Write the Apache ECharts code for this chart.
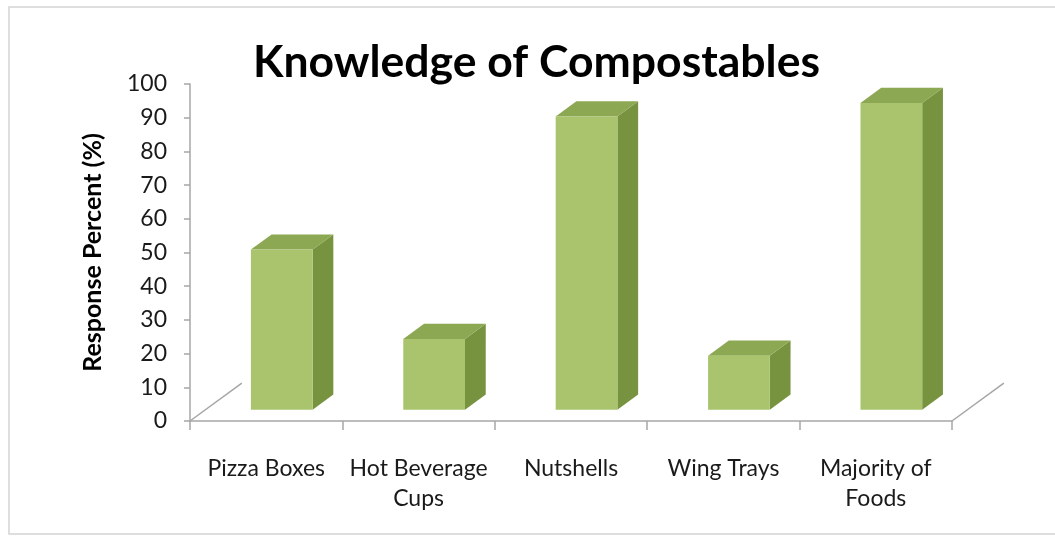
<!DOCTYPE html>
<html>
<head>
<meta charset="utf-8">
<script src="https://cdn.jsdelivr.net/npm/echarts@6/dist/echarts.min.js"></script>
<style>html,body{margin:0;padding:0;background:#fff}#c{width:1055px;height:537px}</style>
</head>
<body>
<div id="c"></div>
<script>
const titleText = 'Knowledge of Compostables';
const yAxisName = 'Response Percent (%)';
const categories = ['Pizza Boxes', 'Hot Beverage\nCups', 'Nutshells', 'Wing Trays', 'Majority of\nFoods'];
const values = [47.5, 21, 87, 16, 91];
const yTicks = { min: 0, max: 100, interval: 10 };

const FRONT = '#a9c46c', TOP = '#8ca852', SIDE = '#78933f';
const FONT = 'Lato, "Open Sans", sans-serif';

const chart = echarts.init(document.getElementById('c'), null, { renderer: 'canvas' });

function renderBar(params, api) {
  const idx = api.value(0), v = api.value(1);
  const base = api.coord([idx, 0]);
  const top = api.coord([idx, v]);
  const catW = api.size([1, 0])[0];
  const bw = catW * 0.405;
  const D = catW * 0.34, DY = -D * 0.73;
  const f = 0.3, b = 0.7;
  const h = base[1] - top[1];
  const fx = base[0] - bw / 2 + D * f, fy = base[1] + DY * f;
  const bx = base[0] - bw / 2 + D * b, by = base[1] + DY * b;
  const ddx = bx - fx, ddy = by - fy;
  const children = [];
  const lineStyle = { stroke: '#a6a6a6', lineWidth: 1.5 };
  if (params.dataIndex === 0) {
    const x = base[0] - catW / 2;
    children.push({ type: 'line', shape: { x1: x, y1: base[1], x2: x + D, y2: base[1] + DY }, style: lineStyle, silent: true });
  }
  if (params.dataIndex === values.length - 1) {
    const x = base[0] + catW / 2;
    children.push({ type: 'line', shape: { x1: x, y1: base[1], x2: x + D, y2: base[1] + DY }, style: lineStyle, silent: true });
  }
  children.push({ type: 'polygon', shape: { points: [
    [fx + bw, fy], [fx + bw + ddx, fy + ddy], [fx + bw + ddx, fy + ddy - h], [fx + bw, fy - h]
  ] }, style: { fill: SIDE } });
  children.push({ type: 'polygon', shape: { points: [
    [fx, fy - h], [fx + ddx, fy + ddy - h], [fx + bw + ddx, fy + ddy - h], [fx + bw, fy - h]
  ] }, style: { fill: TOP } });
  children.push({ type: 'rect', shape: { x: fx, y: fy - h, width: bw, height: h }, style: { fill: FRONT } });
  return { type: 'group', children };
}

chart.setOption({
  animation: false,
  backgroundColor: '#fff',
  textStyle: { fontFamily: FONT },
  graphic: [{
    type: 'rect', shape: { x: 9, y: 7, width: 1100, height: 527 },
    style: { fill: 'none', stroke: '#d4d4d4', lineWidth: 1.5 }, silent: true, z: -1
  }],
  title: {
    text: titleText, left: 248, top: 35,
    textStyle: { fontFamily: FONT, fontWeight: 'bold', fontSize: 44.5, color: '#000' }
  },
  grid: { left: 190, right: 103, top: 84, bottom: 116 },
  xAxis: {
    type: 'category', data: categories,
    axisLine: { lineStyle: { color: '#a6a6a6', width: 1.5 } },
    axisTick: { show: true, length: 9, lineStyle: { color: '#a6a6a6', width: 1.5 } },
    axisLabel: { fontFamily: FONT, fontSize: 23, color: '#1a1a1a', margin: 33, lineHeight: 30, interval: 0 }
  },
  yAxis: {
    type: 'value', min: yTicks.min, max: yTicks.max, interval: yTicks.interval,
    name: yAxisName, nameLocation: 'middle', nameGap: 85,
    nameTextStyle: { fontFamily: FONT, fontWeight: 'bold', fontSize: 25, color: '#000' },
    axisLine: { show: true, lineStyle: { color: '#a6a6a6', width: 1.5 } },
    axisTick: { show: true, length: 6, lineStyle: { color: '#a6a6a6', width: 1.5 } },
    splitLine: { show: false },
    axisLabel: { fontFamily: FONT, fontSize: 23, color: '#1a1a1a', margin: 23 }
  },
  series: [{
    type: 'custom',
    renderItem: renderBar,
    data: values.map((v, i) => [i, v]),
    encode: { x: 0, y: 1 }
  }]
});
</script>
</body>
</html>
